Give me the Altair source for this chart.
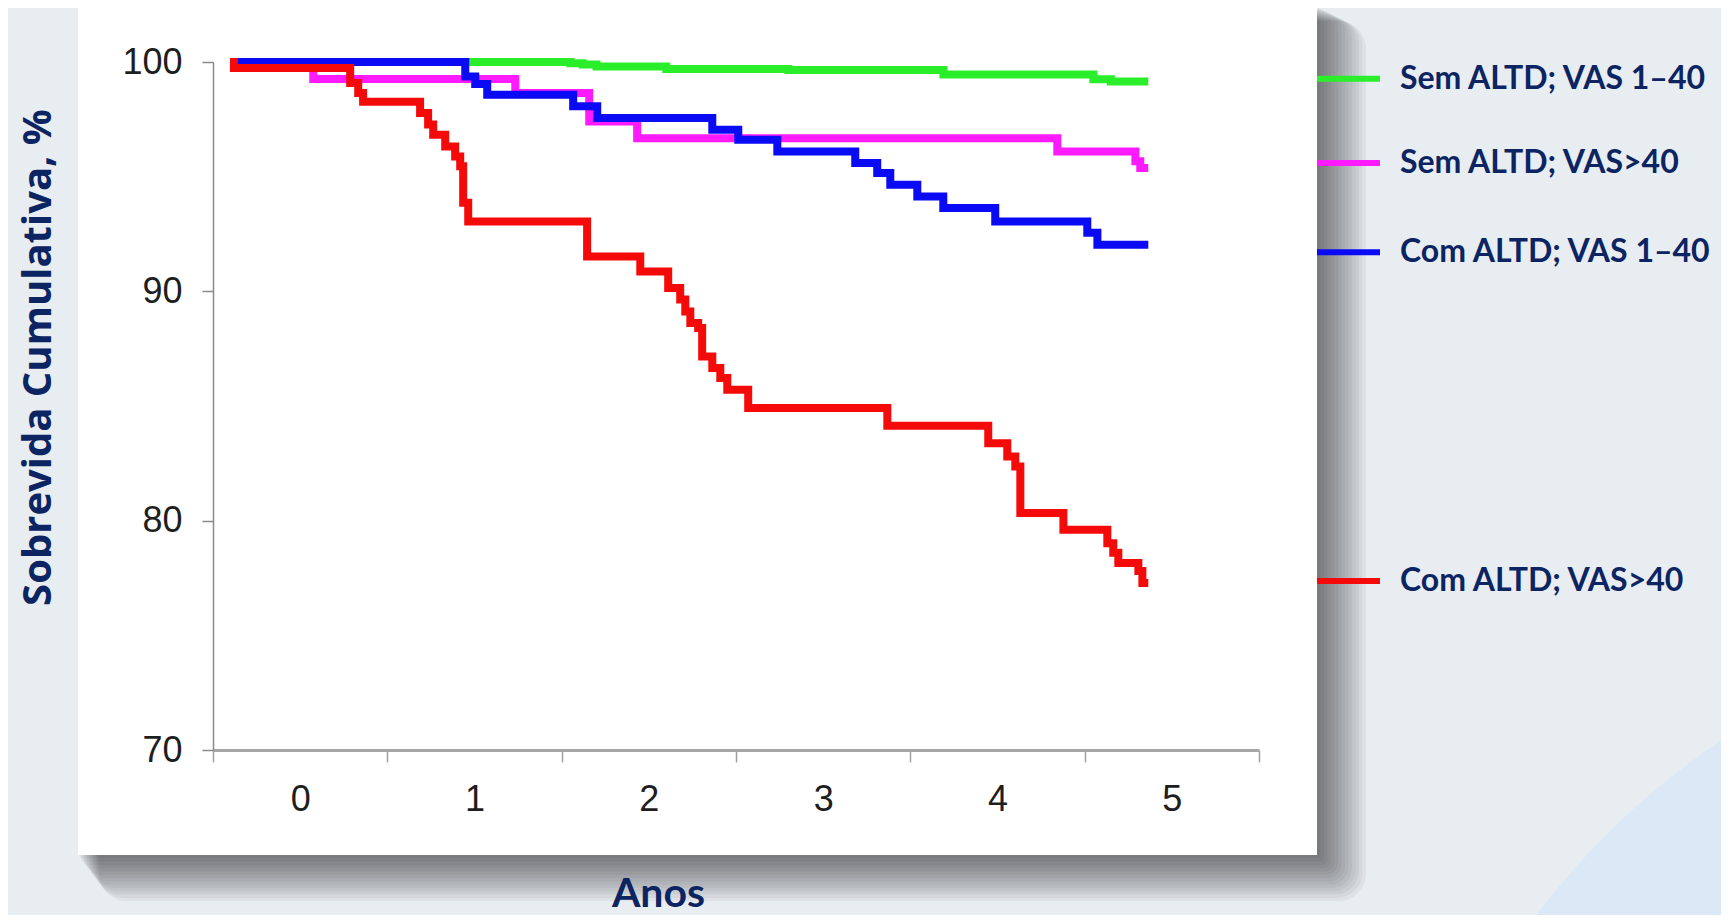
import altair as alt
import pandas as pd

# ---------------- data ----------------
x_labels = [0, 1, 2, 3, 4, 5]
x_tick_values = [-0.5, 0, 0.5, 1, 1.5, 2, 2.5, 3, 3.5, 4, 4.5, 5, 5.5]
y_ticks = [70, 80, 90, 100]

series_names = ["Sem ALTD; VAS 1–40", "Sem ALTD; VAS>40",
                "Com ALTD; VAS 1–40", "Com ALTD; VAS>40"]
series_colors = ["#2bee2b", "#ff1aff", "#0a0af5", "#f50a0a"]
legend_anchor = [99.27, 95.6, 91.7, 77.37]

green_t = [-0.40, 1.55, 1.62, 1.70, 2.10, 2.80, 3.69, 4.55, 4.65, 4.865]
green_v = [100.0, 99.95, 99.89, 99.80, 99.70, 99.65, 99.45, 99.25, 99.15, 99.15]

magenta_t = [-0.40, 0.075, 1.234, 1.658, 1.933, 4.343, 4.791, 4.819, 4.865]
magenta_v = [100.0, 99.26, 98.65, 97.41, 96.68, 96.10, 95.67, 95.38, 95.38]

blue_t = [-0.40, 0.947, 1.004, 1.073, 1.566, 1.704, 2.364, 2.513, 2.737,
          3.184, 3.310, 3.385, 3.540, 3.689, 3.987, 4.515, 4.573, 4.865]
blue_v = [100.0, 99.37, 99.04, 98.57, 98.07, 97.56, 97.05, 96.61, 96.10,
          95.60, 95.16, 94.65, 94.14, 93.63, 93.05, 92.55, 92.03, 92.03]

red_t = [-0.402, -0.38, 0.287, 0.333, 0.361, 0.688, 0.734, 0.763, 0.832,
         0.889, 0.918, 0.935, 0.964, 1.646, 1.951, 2.111, 2.180, 2.209,
         2.238, 2.283, 2.306, 2.364, 2.410, 2.450, 2.570, 3.368, 3.947,
         4.056, 4.102, 4.131, 4.378, 4.630, 4.664, 4.693, 4.808, 4.831, 4.865]
red_v = [100.0, 99.74, 99.08, 98.65, 98.27, 97.78, 97.27, 96.83, 96.32,
         95.88, 95.45, 93.86, 93.05, 91.52, 90.87, 90.14, 89.64, 89.12,
         88.62, 88.40, 87.16, 86.66, 86.22, 85.71, 84.91, 84.14, 83.38,
         82.80, 82.36, 80.33, 79.60, 79.02, 78.60, 78.15, 77.80, 77.28, 77.28]

series_t = [green_t, magenta_t, blue_t, red_t]
series_v = [green_v, magenta_v, blue_v, red_v]

# ---------------- styling ----------------
NAVY = "#0c2461"
BG = "#e8edf2"
W, H = 1046, 688

xscale = alt.Scale(domain=[-0.5, 5.5], nice=False, zero=False)
yscale = alt.Scale(domain=[70, 100], nice=False, zero=False)

x_axis = alt.Axis(
    values=x_tick_values,
    labelExpr="datum.value % 1 === 0 ? format(datum.value, 'd') : ''",
    tickOpacity={"condition": {"test": "datum.value % 1 === 0", "value": 0}, "value": 1},
    labelOverlap=False, grid=False, zindex=1,
    domainColor="#a6a6a6", domainWidth=3, tickColor="#a0a0a0", tickWidth=1.5,
    tickSize=12, labelFont="Liberation Sans", labelFontSize=36,
    labelColor="#1e1e1e", labelPadding=20, labelFlush=False,
    title="Anos", titleFont="Lato", titleFontSize=41, titleFontWeight="bold",
    titleColor=NAVY, titleX=445, titleY=144, titleBaseline="middle",
    titleAlign="center", titleAnchor="start",
)
y_axis = alt.Axis(
    values=y_ticks, grid=False, zindex=1,
    domainColor="#8a8a8a", domainWidth=1.5, tickColor="#8a8a8a", tickWidth=1.5,
    tickSize=11, labelFont="Liberation Sans", labelFontSize=36,
    labelColor="#1e1e1e", labelPadding=20, labelFlush=False,
    title="Sobrevida Cumulativa, %", titleFont="Open Sans", titleFontSize=40,
    titleFontWeight="bold", titleColor=NAVY, titleAngle=270,
    titleX=-175, titleY=295, titleBaseline="middle", titleAlign="center",
    titleAnchor="start",
)

X = alt.X("t:Q", scale=xscale, axis=x_axis)
Y = alt.Y("v:Q", scale=yscale, axis=y_axis)

one = pd.DataFrame({"k": [0]})

layers = []
# soft light-blue swoosh in the lower right corner of the slide
layers.append(
    alt.Chart(one).mark_arc(radius=770, theta=0, theta2=6.2832,
                            color="#d9e8f6", opacity=0.9)
    .encode(x=alt.value(1937), y=alt.value(1318))
)

# panel with soft shadow (pixel offsets relative to plot origin)
PL, PT, PR, PB = -135, -55, 1104, 793
for i in range(1, 15):
    layers.append(
        alt.Chart(one).mark_rect(color="#000000", opacity=0.045, cornerRadius=2 * i)
        .encode(x=alt.value(PL + 1.5 * i), x2=alt.value(PR + 3.5 * i),
                y=alt.value(PT + 1 * i), y2=alt.value(PB + 3.3 * i))
    )
layers.append(
    alt.Chart(one).mark_rect(color="#ffffff")
    .encode(x=alt.value(PL), x2=alt.value(PR), y=alt.value(PT), y2=alt.value(PB))
)

# survival curves
for name, color, ts, vs in zip(series_names, series_colors, series_t, series_v):
    d = pd.DataFrame({"t": ts, "v": vs, "series": name})
    layers.append(
        alt.Chart(d).mark_line(interpolate="step-after", strokeWidth=8, color=color,
                               strokeJoin="miter", strokeCap="butt")
        .encode(x=X, y=Y)
    )

# legend labels placed at the curve ends
leg = pd.DataFrame({"series": series_names, "v": legend_anchor, "color": series_colors})
layers.append(
    alt.Chart(leg).mark_rule(strokeWidth=6)
    .encode(x=alt.value(PR), x2=alt.value(1167), y=Y,
            color=alt.Color("color:N", scale=None))
)
layers.append(
    alt.Chart(leg).mark_text(align="left", baseline="middle", font="Lato",
                             fontSize=32, fontWeight="bold", color=NAVY)
    .encode(x=alt.value(1187), y=Y, text="series:N")
)

chart = (
    alt.layer(*layers)
    .properties(width=W, height=H,
                autosize=alt.AutoSizeParams(type="none"),
                padding={"left": 205, "top": 54, "right": 462, "bottom": 165},
                background=BG)
    .configure_view(stroke=None, fill=None)
)

chart.save("out.html", embed_options={"renderer": "svg", "actions": False})
